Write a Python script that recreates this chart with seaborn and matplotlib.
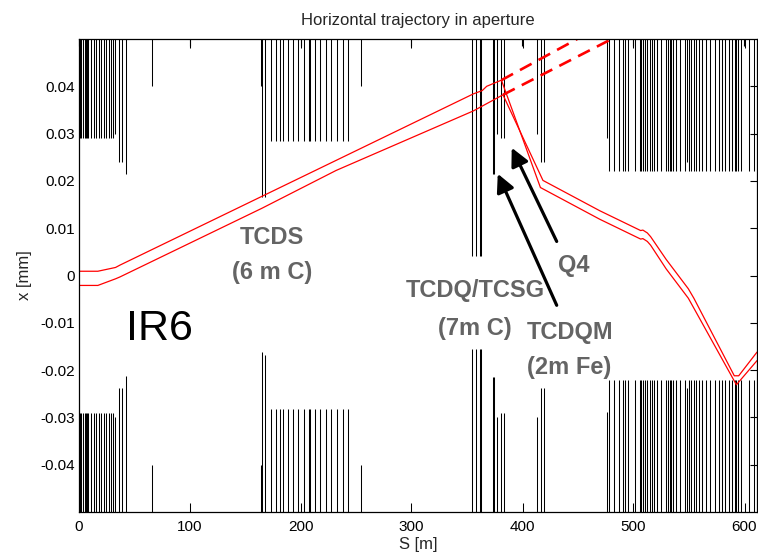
import matplotlib
matplotlib.use("Agg")
import matplotlib.pyplot as plt
import numpy as np
import pandas as pd
import seaborn as sns

# ---------------------------------------------------------------- apertures --
# Longitudinal position of each aperture element [m]
elem_s = [
    0.6, 2.2, 3.6, 5.1, 6.0, 7.2, 8.1, 11.2, 13.5, 15.7, 18.1, 20.2, 22.6,
    24.7, 27.1, 29.2, 30.7, 32.9, 36.1, 39.2, 42.2,
    66.3, 99.9,
    164.0, 165.2, 168.3, 173.7, 177.6, 181.0, 184.2, 188.7, 193.2, 198.0,
    200.1, 203.1, 207.6, 208.9, 213.0, 217.9, 222.9, 227.8, 233.2, 238.2,
    243.2, 254.9, 300.0,
    355.1, 358.7, 362.4, 363.2, 373.8, 374.6, 377.3, 381.3, 383.4, 400.8,
    413.4, 417.4, 419.8,
    477.0, 478.4, 482.7, 487.2, 491.1, 493.2, 495.6, 500.1, 502.3, 506.1,
    507.7, 509.1, 510.7, 512.7, 515.2, 517.2, 519.1, 521.8, 525.7, 529.6,
    531.7, 533.2, 534.7, 536.2, 539.3, 542.3, 547.4, 549.2, 550.7, 552.8,
    554.9, 557.3, 559.7, 562.4, 566.3, 570.0, 573.8, 577.4, 580.8, 583.5,
    586.5, 589.4, 591.9, 593.4, 594.9, 597.3, 600.9, 604.8, 609.3,
]
# Half aperture on the positive side [m]
elem_ap_pos = [
    0.0291, 0.0291, 0.0291, 0.0291, 0.0291, 0.0291, 0.0291, 0.0291, 0.0291,
    0.0291, 0.0291, 0.0291, 0.0291, 0.0291, 0.0291, 0.0291, 0.0291, 0.0300,
    0.0240, 0.0240, 0.0215,
    0.0400, 0.0480,
    0.0400, 0.0165, 0.0165, 0.0285, 0.0285, 0.0285, 0.0285, 0.0285, 0.0285,
    0.0285, 0.0480, 0.0285, 0.0285, 0.0285, 0.0285, 0.0285, 0.0285, 0.0285,
    0.0285, 0.0285, 0.0285, 0.0400, 0.0480,
    0.0042, 0.0042, 0.0042, 0.0042, 0.0215, 0.0215, 0.0300, 0.0290, 0.0290,
    0.0480, 0.0300, 0.0240, 0.0240,
    0.0291, 0.0220, 0.0220, 0.0220, 0.0220, 0.0220, 0.0220, 0.0480, 0.0220,
    0.0220, 0.0220, 0.0220, 0.0220, 0.0220, 0.0220, 0.0220, 0.0220, 0.0220,
    0.0220, 0.0220, 0.0220, 0.0220, 0.0220, 0.0220, 0.0220, 0.0220, 0.0220,
    0.0240, 0.0220, 0.0220, 0.0220, 0.0220, 0.0220, 0.0220, 0.0220, 0.0220,
    0.0220, 0.0220, 0.0220, 0.0220, 0.0220, 0.0220, 0.0220, 0.0220, 0.0220,
    0.0220, 0.0480, 0.0220, 0.0220,
]
# Half aperture on the negative side, as a magnitude [m]
elem_ap_neg = [
    0.0290, 0.0290, 0.0290, 0.0290, 0.0290, 0.0290, 0.0290, 0.0290, 0.0290,
    0.0290, 0.0290, 0.0290, 0.0290, 0.0290, 0.0290, 0.0290, 0.0290, 0.0299,
    0.0238, 0.0238, 0.0213,
    0.0400, 0.0480,
    0.0400, 0.0161, 0.0168, 0.0283, 0.0283, 0.0283, 0.0283, 0.0283, 0.0283,
    0.0283, 0.0480, 0.0283, 0.0283, 0.0283, 0.0283, 0.0283, 0.0283, 0.0283,
    0.0283, 0.0283, 0.0283, 0.0400, 0.0480,
    0.0155, 0.0155, 0.0155, 0.0155, 0.0215, 0.0215, 0.0300, 0.0290, 0.0290,
    0.0480, 0.0300, 0.0238, 0.0238,
    0.0288, 0.0220, 0.0220, 0.0220, 0.0220, 0.0220, 0.0220, 0.0480, 0.0220,
    0.0220, 0.0220, 0.0220, 0.0220, 0.0220, 0.0220, 0.0220, 0.0220, 0.0220,
    0.0220, 0.0220, 0.0220, 0.0220, 0.0220, 0.0220, 0.0220, 0.0220, 0.0220,
    0.0238, 0.0220, 0.0220, 0.0220, 0.0220, 0.0220, 0.0220, 0.0220, 0.0220,
    0.0220, 0.0220, 0.0220, 0.0220, 0.0220, 0.0220, 0.0220, 0.0220, 0.0220,
    0.0220, 0.0480, 0.0220, 0.0220,
]

# ---------------------------------------------------------- beam envelope --
traj_a_s = [0.0, 17.0, 33.0, 37.0, 356.0, 364.0, 368.0, 381.3,
            416.5, 470.0, 507.0, 509.0, 513.0, 516.0, 530.0, 550.0, 555.0,
            593.4, 612.0]
traj_a_x = [0.0009, 0.0009, 0.0017, 0.0022, 0.0384, 0.0391, 0.0400, 0.0413,
            0.0186, 0.0119, 0.0077, 0.0078, 0.0072, 0.0064, 0.0014, -0.0048,
            -0.0069, -0.0231, -0.0180]
traj_b_s = [0.0, 17.0, 33.0, 37.0, 165.0, 232.0, 356.0, 382.7,
            418.8, 470.0, 507.0, 509.0, 513.0, 516.0, 530.0, 550.0, 555.0,
            591.5, 595.5, 612.0]
traj_b_x = [-0.0021, -0.0021, -0.0007, -0.0003, 0.0142, 0.0222, 0.0348, 0.0382,
            0.0201, 0.0137, 0.0095, 0.0096, 0.0090, 0.0082, 0.0034, -0.0028,
            -0.0048, -0.0212, -0.0212, -0.0162]

# Undeflected continuation beyond the kick point
free_a_s = [381.3, 500.0]
free_a_x = [0.0413, 0.0564]
free_b_s = [382.7, 500.0]
free_b_x = [0.0382, 0.0523]

x_ticks = [0, 100, 200, 300, 400, 500, 600]
y_ticks = [-0.04, -0.03, -0.02, -0.01, 0.0, 0.01, 0.02, 0.03, 0.04]
y_tick_labels = ["-0.04", "-0.03", "-0.02", "-0.01", "0",
                 "0.01", "0.02", "0.03", "0.04"]

S_MAX = 612.0
X_MAX = 0.05

# ------------------------------------------------------------------ style --
sns.set_style("white")
plt.rcParams["font.family"] = ["Liberation Sans", "DejaVu Sans"]
plt.rcParams["axes.unicode_minus"] = False

W, H = 758, 559
fig = plt.figure(figsize=(W / 100, H / 100), dpi=100)
ax = fig.add_axes([79 / W, 1 - 512 / H, 678 / W, 473 / H])

# aperture walls
s_arr = np.asarray(elem_s)
ax.vlines(s_arr, np.asarray(elem_ap_pos), X_MAX, colors="black", lw=0.75)
ax.vlines(s_arr, -X_MAX, -np.asarray(elem_ap_neg), colors="black", lw=0.75)

# beam envelope
for s_vals, x_vals in ((traj_a_s, traj_a_x), (traj_b_s, traj_b_x)):
    df = pd.DataFrame({"S": s_vals, "x": x_vals})
    sns.lineplot(data=df, x="S", y="x", sort=False, estimator=None,
                 color="#ff0000", lw=0.9, ax=ax)

for s_vals, x_vals in ((free_a_s, free_a_x), (free_b_s, free_b_x)):
    df = pd.DataFrame({"S": s_vals, "x": x_vals})
    sns.lineplot(data=df, x="S", y="x", sort=False, estimator=None,
                 color="#ff0000", lw=1.9, ax=ax)
    ax.lines[-1].set_dashes((5.0, 3.0))

# labels on the picture
grey = "#646464"
lab_kw = dict(fontsize=17, fontweight="bold", color=grey)
ax.text(173.9, 0.0080, "TCDS", ha="center", va="center", **lab_kw)
ax.text(173.9, 0.0006, "(6 m C)", ha="center", va="center", **lab_kw)
ax.text(357.3, -0.0032, "TCDQ/TCSG", ha="center", va="center", **lab_kw)
ax.text(357.3, -0.0112, "(7m C)", ha="center", va="center", **lab_kw)
ax.text(404.2, -0.0120, "TCDQM", ha="left", va="center", **lab_kw)
ax.text(404.2, -0.0194, "(2m Fe)", ha="left", va="center", **lab_kw)
ax.text(446.6, 0.0021, "Q4", ha="center", va="center", **lab_kw)
ax.text(73.0, -0.0114, "IR6", ha="center", va="center",
        fontsize=31, color="black")

arrow_kw = dict(arrowstyle="-|>,head_length=0.6,head_width=0.3",
                lw=2.3, color="black", mutation_scale=18,
                shrinkA=0, shrinkB=0)
ax.annotate("", xy=(378.0, 0.0215), xytext=(431.2, -0.0063),
            arrowprops=arrow_kw)
ax.annotate("", xy=(390.6, 0.0270), xytext=(431.2, 0.0072),
            arrowprops=arrow_kw)

# axes
ax.set_xlim(0, S_MAX)
ax.set_ylim(-X_MAX, X_MAX)
ax.set_xticks(x_ticks)
ax.set_xticklabels([str(v) for v in x_ticks])
ax.set_yticks(y_ticks)
ax.set_yticklabels(y_tick_labels)
ax.tick_params(direction="in", top=True, right=True, length=5, width=0.8,
               labelsize=11, pad=3, colors="black")
ax.tick_params(axis="x", pad=6)
for sp in ax.spines.values():
    sp.set_visible(True)
    sp.set_color("black")
    sp.set_linewidth(0.9)

ax.set_xlabel("S [m]", fontsize=12, labelpad=2)
ax.set_ylabel("x [mm]", fontsize=12, labelpad=6)
ax.set_title("Horizontal trajectory in aperture", fontsize=12, pad=10)

fig.savefig("out.png", dpi=100)
